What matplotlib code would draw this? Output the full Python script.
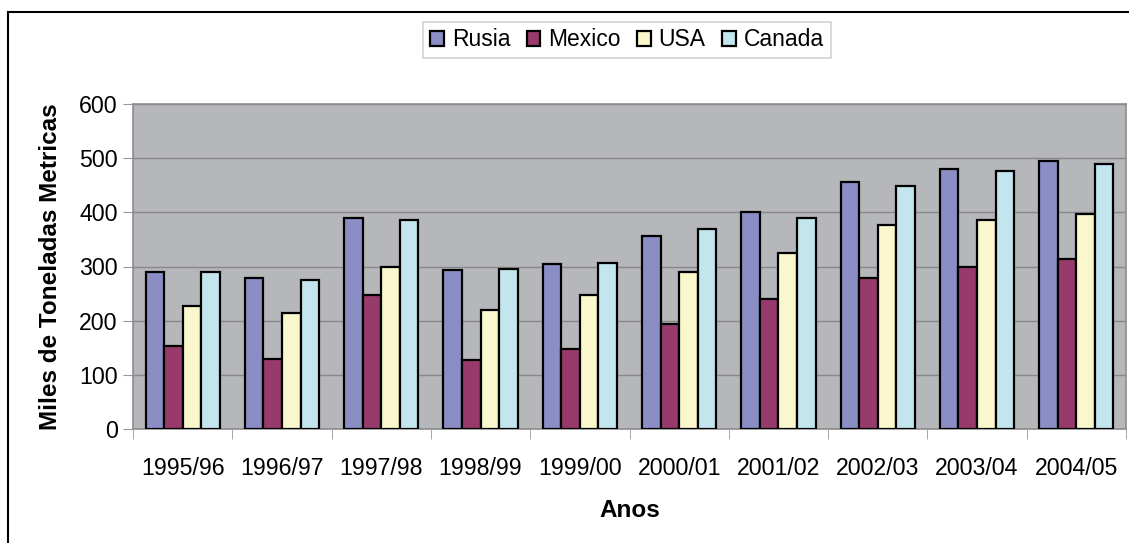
import numpy as np
import matplotlib
matplotlib.use("Agg")
import matplotlib.pyplot as plt
from matplotlib.patches import Rectangle

plt.rcParams['font.family'] = ['Liberation Sans', 'DejaVu Sans']

years = ["1995/96", "1996/97", "1997/98", "1998/99", "1999/00",
         "2000/01", "2001/02", "2002/03", "2003/04", "2004/05"]
rusia = [289, 279, 390, 293, 304, 356, 400, 456, 480, 494]
mexico = [154, 130, 247, 127, 148, 193, 240, 279, 300, 313]
usa = [227, 214, 300, 220, 248, 290, 324, 376, 386, 396]
canada = [289, 275, 386, 296, 307, 370, 390, 448, 477, 490]

series = [("Rusia", rusia, "#8a8ec4"),
          ("Mexico", mexico, "#983a6c"),
          ("USA", usa, "#f9f7cb"),
          ("Canada", canada, "#c2e5ee")]

fig = plt.figure(figsize=(11.29, 5.43), dpi=100)
# outer chart border (right and bottom edges fall outside the image)
fig.patches.append(Rectangle((8 / 1129, -0.05), 1.1, 1 - 12 / 543 + 0.05,
                             transform=fig.transFigure, fill=False,
                             edgecolor="black", linewidth=1.5))

ax = fig.add_axes([133 / 1129, 1 - 429 / 543, 993 / 1129, 325 / 543])
ax.set_facecolor("#b6b7bb")

x = np.arange(len(years))
w = 0.187
for i, (name, vals, col) in enumerate(series):
    ax.bar(x + (i - 1.5) * w, vals, w, color=col, edgecolor="black",
           linewidth=1.6, label=name, zorder=3)

ax.set_xlim(-0.5, len(years) - 0.5)
ax.set_ylim(0, 600)
ax.set_yticks(range(0, 601, 100))
ax.yaxis.grid(True, color="#88888c", linewidth=1, zorder=0)
ax.set_xticks(x)
ax.set_xticklabels(years, fontsize=16.7)
ax.set_xticks(np.arange(-0.5, len(years)), minor=True)
ax.tick_params(axis="x", which="major", length=0, pad=20)
ax.tick_params(axis="x", which="minor", length=7, color="#999999", direction="out")
ax.tick_params(axis="y", labelsize=16.7, length=7, color="#999999", pad=4)
for side in ["left", "bottom", "top", "right"]:
    ax.spines[side].set_color("#8c8c8c")
    ax.spines[side].set_linewidth(1.2)

ax.set_xlabel("Anos", fontsize=17.5, fontweight="bold", labelpad=14)
ax.set_ylabel("Miles de Toneladas Metricas", fontsize=17.5, fontweight="bold", labelpad=12)

leg = fig.legend(loc="center", bbox_to_anchor=(627 / 1129, 1 - 40 / 543), ncol=4,
                 fontsize=16.5, frameon=True, fancybox=False, handlelength=0.6,
                 handleheight=0.6, handletextpad=0.35, columnspacing=0.7,
                 borderpad=0.3)
leg.get_frame().set_edgecolor("#c8c8c8")
leg.get_frame().set_linewidth(1.2)
for h in leg.legend_handles:
    h.set_linewidth(1.6)

fig.savefig("out.png", dpi=100)
